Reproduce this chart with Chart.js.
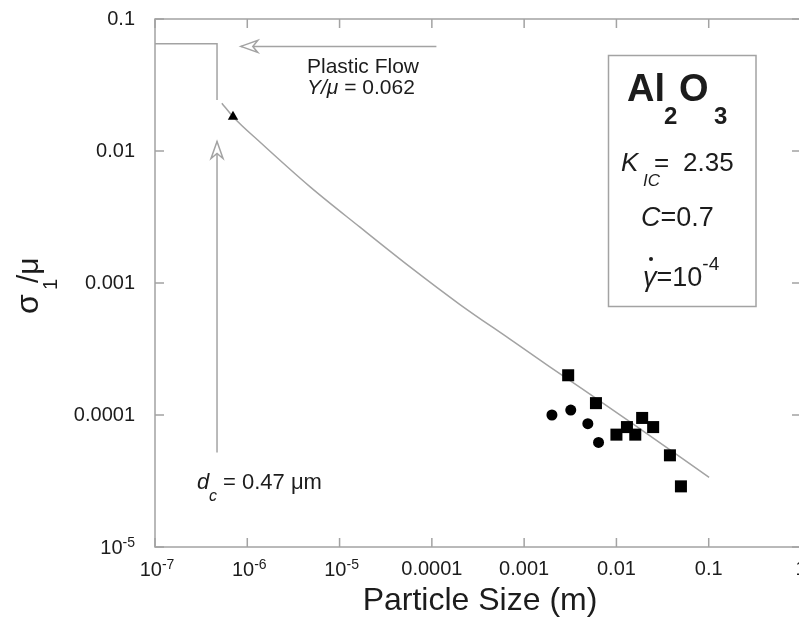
<!DOCTYPE html>
<html lang="en">
<head>
<meta charset="UTF-8">
<title>Al2O3 - sigma1/mu vs particle size</title>
<script src="https://cdn.jsdelivr.net/npm/chart.js"></script>
<style>
  html, body { margin: 0; padding: 0; background: #fff; overflow: hidden; }
  .chart-container { position: relative; width: 803px; height: 627px; }
  #myChart { display: block; }
</style>
</head>
<body>
<div class="chart-container">
  <canvas id="myChart" width="803" height="627"></canvas>
</div>
<script>
// axis ticks ('^' marks a power of ten, drawn with a raised exponent)
const xTickValues = [1e-7, 1e-6, 1e-5, 1e-4, 1e-3, 0.01, 0.1, 1];
const xTickLabels = ['10^-7', '10^-6', '10^-5', '0.0001', '0.001', '0.01', '0.1', '1'];
const yTickValues = [1e-5, 1e-4, 1e-3, 0.01, 0.1];
const yTickLabels = ['10^-5', '0.0001', '0.001', '0.01', '0.1'];

// model curve
const curveSize   = [5.3e-7, 7.0e-7, 1.37e-6, 4.8e-6, 1.65e-5, 5.75e-5, 2.0e-4, 6.95e-4, 1.88e-3, 0.0138, 0.101];
const curveStress = [0.0230, 0.0182, 0.0117, 0.00535, 0.00266, 0.00133, 6.9e-4, 3.77e-4, 2.33e-4, 8.96e-5, 3.37e-5];

// plastic flow limit (step) and critical size
const stepSize   = [1e-7, 4.7e-7, 4.7e-7];
const stepStress = [0.065, 0.065, 0.0243];

// arrows (tail -> tip)
const dcArrowSize   = [4.7e-7, 4.7e-7];
const dcArrowStress = [5.2e-5, 0.0118];
const pfArrowSize   = [1.12e-4, 8.5e-7];
const pfArrowStress = [0.062, 0.062];

// measured data
const triSize = [7.0e-7];
const triStress = [0.0182];
const squareSize   = [0.003, 0.006, 0.01, 0.013, 0.016, 0.019, 0.025, 0.038, 0.05];
const squareStress = [2.0e-4, 1.23e-4, 7.1e-5, 8.1e-5, 7.1e-5, 9.5e-5, 8.1e-5, 4.95e-5, 2.88e-5];
const circleSize   = [0.002, 0.0032, 0.0049, 0.0064];
const circleStress = [1.0e-4, 1.09e-4, 8.6e-5, 6.2e-5];

const FONT = "'Liberation Sans', Arial, sans-serif";
const TEXT = '#1c1c1c';
const GRAY = '#a3a3a3';

function pts(xs, ys) {
    return xs.map((x, i) => ({ x: x, y: ys[i] }));
}

// plain labels go to Chart.js, power labels are drawn by the plugin
function plainLabel(lbl) {
    return lbl.indexOf('^') >= 0 ? '' : lbl;
}

// draw a run of text pieces one after another
function rich(ctx, x, y, parts) {
    let cx = x;
    parts.forEach(p => {
        ctx.font = p.font;
        if (p.x !== undefined) cx = p.x;
        ctx.fillText(p.t, cx, y + (p.dy || 0));
        cx += ctx.measureText(p.t).width;
    });
    return cx - x;
}

function powerLabel(ctx, lbl, x, y, align) {
    const [base, exp] = lbl.split('^');
    ctx.font = '20px ' + FONT;
    const w1 = ctx.measureText(base).width;
    ctx.font = '14px ' + FONT;
    const w2 = ctx.measureText(exp).width;
    let x0 = x;
    if (align === 'center') x0 = x - (w1 + w2) / 2;
    if (align === 'right') x0 = x - (w1 + w2);
    rich(ctx, x0, y, [
        { t: base, font: '20px ' + FONT },
        { t: exp, font: '14px ' + FONT, dy: -7 }
    ]);
}

function arrowHead(ctx, x0, y0, x1, y1) {
    const a = Math.atan2(y1 - y0, x1 - x0);
    ctx.save();
    ctx.translate(x1, y1);
    ctx.rotate(a);
    ctx.beginPath();
    ctx.moveTo(0, 0);
    ctx.lineTo(-17, -6);
    ctx.lineTo(-12, 0);
    ctx.lineTo(-17, 6);
    ctx.closePath();
    ctx.fillStyle = '#fff';
    ctx.fill();
    ctx.strokeStyle = GRAY;
    ctx.lineWidth = 1.5;
    ctx.stroke();
    ctx.restore();
}

const extras = {
    id: 'extras',
    afterDatasetsDraw(chart) {
        const ctx = chart.ctx;
        const xs = chart.scales.x, ys = chart.scales.y;
        const a = chart.chartArea;

        // arrow heads
        arrowHead(ctx, xs.getPixelForValue(dcArrowSize[0]), ys.getPixelForValue(dcArrowStress[0]),
                       xs.getPixelForValue(dcArrowSize[1]), ys.getPixelForValue(dcArrowStress[1]));
        arrowHead(ctx, xs.getPixelForValue(pfArrowSize[0]), ys.getPixelForValue(pfArrowStress[0]),
                       xs.getPixelForValue(pfArrowSize[1]), ys.getPixelForValue(pfArrowStress[1]));

        // frame + inward ticks on all sides
        ctx.save();
        ctx.strokeStyle = GRAY;
        ctx.lineWidth = 1.5;
        ctx.strokeRect(a.left, a.top, a.right - a.left, a.bottom - a.top);
        ctx.beginPath();
        xTickValues.forEach(v => {
            const px = xs.getPixelForValue(v);
            ctx.moveTo(px, a.bottom); ctx.lineTo(px, a.bottom - 9);
            ctx.moveTo(px, a.top); ctx.lineTo(px, a.top + 9);
        });
        yTickValues.forEach(v => {
            const py = ys.getPixelForValue(v);
            ctx.moveTo(a.left, py); ctx.lineTo(a.left + 9, py);
            ctx.moveTo(a.right, py); ctx.lineTo(a.right - 9, py);
        });
        ctx.stroke();

        ctx.fillStyle = TEXT;
        ctx.textBaseline = 'alphabetic';
        ctx.textAlign = 'left';

        // power-of-ten tick labels
        xTickLabels.forEach((lbl, i) => {
            if (lbl.indexOf('^') >= 0) powerLabel(ctx, lbl, xs.getPixelForValue(xTickValues[i]) + 2, a.bottom + 29, 'center');
        });
        yTickLabels.forEach((lbl, i) => {
            if (lbl.indexOf('^') >= 0) powerLabel(ctx, lbl, a.left - 20, ys.getPixelForValue(yTickValues[i]) + 7, 'right');
        });

        // axis titles
        ctx.font = '32px ' + FONT;
        ctx.textAlign = 'center';
        ctx.fillText('Particle Size (m)', 480, 610);
        ctx.textAlign = 'left';

        ctx.save();
        ctx.translate(38, 314);
        ctx.rotate(-Math.PI / 2);
        rich(ctx, 0, 0, [
            { t: 'σ', font: '32px ' + FONT },
            { t: '1', font: '20px ' + FONT, dy: 19, x: 24 },
            { t: '/μ', font: '30px ' + FONT, x: 31 }
        ]);
        ctx.restore();

        // plastic flow label
        ctx.font = '21px ' + FONT;
        ctx.textAlign = 'center';
        ctx.fillText('Plastic Flow', 363, 73);
        ctx.textAlign = 'left';
        rich(ctx, 307, 94, [
            { t: 'Y/μ', font: 'italic 21px ' + FONT },
            { t: ' = 0.062', font: '21px ' + FONT }
        ]);

        // critical size label
        rich(ctx, 197, 489, [
            { t: 'd', font: 'italic 22px ' + FONT },
            { t: 'c', font: 'italic 16px ' + FONT, dy: 12, x: 209 },
            { t: '= 0.47 μm', font: '22px ' + FONT, x: 223 }
        ]);

        // parameter box
        ctx.strokeStyle = GRAY;
        ctx.lineWidth = 1.5;
        ctx.strokeRect(608.5, 55.5, 147.5, 251);
        rich(ctx, 627, 101, [
            { t: 'Al', font: 'bold 38px ' + FONT },
            { t: '2', font: 'bold 24px ' + FONT, dy: 23, x: 664 },
            { t: 'O', font: 'bold 38px ' + FONT, x: 679 },
            { t: '3', font: 'bold 24px ' + FONT, dy: 23, x: 714 }
        ]);
        rich(ctx, 621, 171, [
            { t: 'K', font: 'italic 26px ' + FONT },
            { t: 'IC', font: 'italic 17px ' + FONT, dy: 15, x: 643 },
            { t: '=', font: '26px ' + FONT, x: 654 },
            { t: '2.35', font: '26px ' + FONT, x: 683 }
        ]);
        rich(ctx, 641, 226, [
            { t: 'C', font: 'italic 27px ' + FONT },
            { t: '=0.7', font: '27px ' + FONT }
        ]);
        rich(ctx, 643, 286, [
            { t: 'γ', font: 'italic 27px ' + FONT },
            { t: '=10', font: '27px ' + FONT },
            { t: '-4', font: '19px ' + FONT, dy: -16 }
        ]);
        ctx.beginPath();
        ctx.arc(651, 259, 2, 0, Math.PI * 2);
        ctx.fill();
        ctx.restore();
    }
};

const lineStyle = {
    showLine: true,
    fill: false,
    borderColor: GRAY,
    borderWidth: 1.5,
    pointRadius: 0,
    pointHoverRadius: 0
};

const config = {
    type: 'scatter',
    data: {
        datasets: [
            { label: 'triangle', data: pts(triSize, triStress), pointStyle: 'triangle', pointRadius: 6,
              backgroundColor: '#000', borderColor: '#000', borderWidth: 0 },
            { label: 'squares', data: pts(squareSize, squareStress), pointStyle: 'rect', pointRadius: 8.5,
              backgroundColor: '#000', borderColor: '#000', borderWidth: 0 },
            { label: 'circles', data: pts(circleSize, circleStress), pointStyle: 'circle', pointRadius: 5.5,
              backgroundColor: '#000', borderColor: '#000', borderWidth: 0 },
            Object.assign({ label: 'model', data: pts(curveSize, curveStress), cubicInterpolationMode: 'monotone' }, lineStyle),
            Object.assign({ label: 'plastic flow', data: pts(stepSize, stepStress) }, lineStyle),
            Object.assign({ label: 'dc arrow', data: pts(dcArrowSize, dcArrowStress) }, lineStyle),
            Object.assign({ label: 'pf arrow', data: pts(pfArrowSize, pfArrowStress) }, lineStyle)
        ]
    },
    options: {
        responsive: false,
        animation: false,
        events: [],
        layout: { autoPadding: false, padding: { top: 19, right: 2, left: 0, bottom: 0 } },
        plugins: { legend: { display: false }, tooltip: { enabled: false } },
        scales: {
            x: {
                type: 'logarithmic',
                min: 1e-7,
                max: 1,
                afterBuildTicks: s => { s.ticks = xTickValues.map(v => ({ value: v })); },
                afterFit: s => { s.height = 80; s.paddingLeft = 0; s.paddingRight = 0; },
                ticks: {
                    callback: (v, i) => plainLabel(xTickLabels[i]),
                    font: { size: 20, family: FONT },
                    color: TEXT,
                    padding: 10,
                    maxRotation: 0,
                    autoSkip: false
                },
                grid: { display: false, drawTicks: false },
                border: { display: false }
            },
            y: {
                type: 'logarithmic',
                min: 1e-5,
                max: 0.1,
                afterBuildTicks: s => { s.ticks = yTickValues.map(v => ({ value: v })); },
                afterFit: s => { s.width = 155; s.paddingTop = 0; s.paddingBottom = 0; },
                ticks: {
                    callback: (v, i) => plainLabel(yTickLabels[i]),
                    font: { size: 20, family: FONT },
                    color: TEXT,
                    padding: 20,
                    autoSkip: false
                },
                grid: { display: false, drawTicks: false },
                border: { display: false }
            }
        }
    },
    plugins: [extras]
};

Chart.defaults.font.family = FONT;
const myChart = new Chart(document.getElementById('myChart'), config);
</script>
</body>
</html>
